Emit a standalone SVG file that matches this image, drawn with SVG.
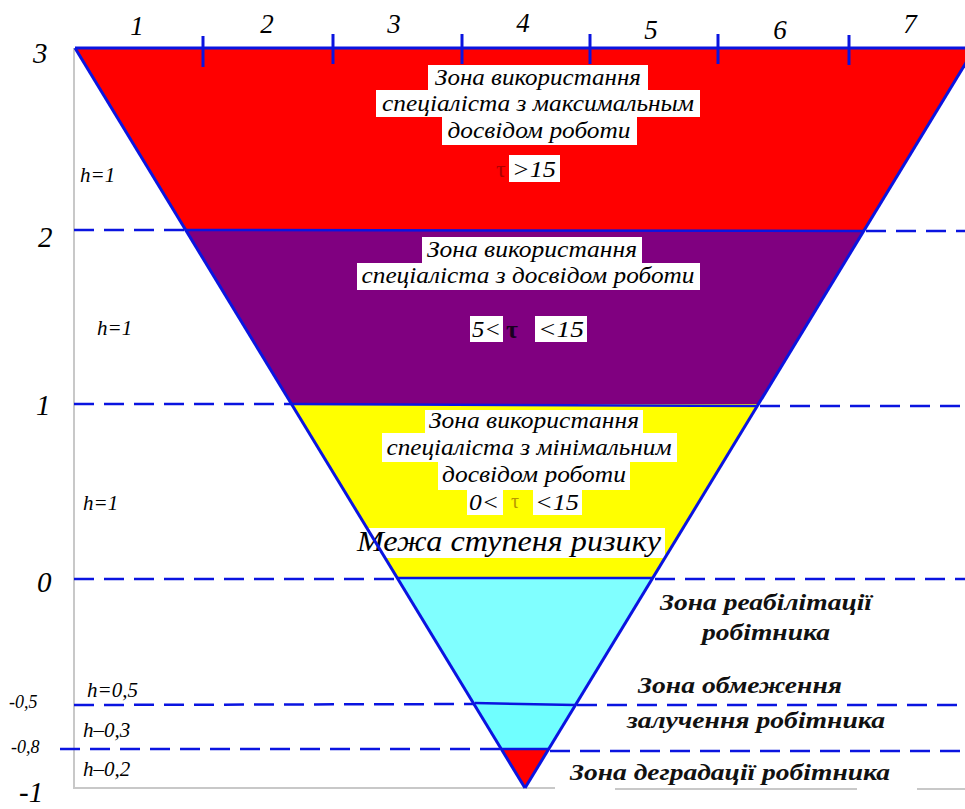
<svg xmlns="http://www.w3.org/2000/svg" width="965" height="809" viewBox="0 0 965 809">
<style>
.ed{stroke:#0a14e0;stroke-width:3;fill:none}
.hl{stroke:#0a14e0;stroke-width:2.5;fill:none}
.ds{stroke:#0a14e0;stroke-width:2.5;fill:none;stroke-dasharray:20 10}
.gr{stroke:#c8c8c8;stroke-width:2;fill:none}
text{font-family:"Liberation Serif","Times New Roman",serif}
.t{font-style:italic;fill:#000}
.z{font-size:23px;text-anchor:middle}
.ax{font-size:29px}
.col{font-size:27px;text-anchor:middle}
.h{font-size:21px}
.rb{font-style:italic;font-weight:bold;font-size:23px;fill:#111}
.bx{fill:#fff}
</style>
<rect width="965" height="809" fill="#fff"/>
<g id="frame">
<line class="gr" x1="74" y1="48" x2="74" y2="789"/>
<line class="gr" x1="74" y1="788" x2="555" y2="788"/>
<line class="gr" x1="615" y1="789" x2="857" y2="789"/>
<line class="gr" x1="917" y1="789" x2="965" y2="789"/>
</g>
<g id="zone-max">
<polygon points="75,48 975,48 864,230 186,230" fill="#ff0000"/>
<rect class="bx" x="428" y="65" width="220" height="25"/>
<rect class="bx" x="376" y="90" width="324" height="27"/>
<rect class="bx" x="442" y="117" width="195" height="28"/>
<rect class="bx" x="509" y="155" width="51" height="27"/>
<text class="t z" x="538" y="85" textLength="206" lengthAdjust="spacingAndGlyphs">Зона використання</text>
<text class="t z" x="538" y="111" textLength="312" lengthAdjust="spacingAndGlyphs">спеціаліста з максимальным</text>
<text class="t z" x="539" y="138" textLength="183" lengthAdjust="spacingAndGlyphs">досвідом роботи</text>
<text x="496" y="177" font-size="24" fill="#b00000">τ</text>
<text class="t" x="512" y="177" font-size="23" textLength="44" lengthAdjust="spacingAndGlyphs">&gt;15</text>
</g>
<g id="zone-exp">
<polygon points="186,230 864,230 758,404 292,404" fill="#800080"/>
<rect class="bx" x="422" y="237" width="220" height="26"/>
<rect class="bx" x="357" y="263" width="343" height="27"/>
<rect class="bx" x="470" y="316" width="33" height="26"/>
<rect class="bx" x="535" y="316" width="52" height="26"/>
<text class="t z" x="532" y="257" textLength="210" lengthAdjust="spacingAndGlyphs">Зона використання</text>
<text class="t z" x="528" y="283" textLength="333" lengthAdjust="spacingAndGlyphs">спеціаліста з досвідом роботи</text>
<text class="t" x="472" y="337" font-size="23" textLength="29" lengthAdjust="spacingAndGlyphs">5&lt;</text>
<text x="506" y="338" font-weight="bold" font-size="26" fill="#1a0020">τ</text>
<text class="t" x="538" y="337" font-size="23" textLength="46" lengthAdjust="spacingAndGlyphs">&lt;15</text>
</g>
<g id="zone-min">
<polygon points="292,404 758,404 653,578 397,578" fill="#ffff00"/>
<rect class="bx" x="425" y="410" width="218" height="23"/>
<rect class="bx" x="382" y="433" width="295" height="29"/>
<rect class="bx" x="438" y="462" width="192" height="28"/>
<rect class="bx" x="467" y="490" width="36" height="25"/>
<rect class="bx" x="533" y="490" width="49" height="25"/>
<rect class="bx" x="353" y="528" width="312" height="30"/>
<text class="t z" x="534" y="428" textLength="210" lengthAdjust="spacingAndGlyphs">Зона використання</text>
<text class="t z" x="529" y="455" textLength="285" lengthAdjust="spacingAndGlyphs">спеціаліста з мінімальним</text>
<text class="t z" x="534" y="482" textLength="184" lengthAdjust="spacingAndGlyphs">досвідом роботи</text>
<text class="t" x="469" y="510" font-size="23" textLength="30" lengthAdjust="spacingAndGlyphs">0&lt;</text>
<text x="511" y="508" font-size="20" fill="#b89800">τ</text>
<text class="t" x="535" y="510" font-size="23" textLength="44" lengthAdjust="spacingAndGlyphs">&lt;15</text>
<text class="t" x="509" y="551" font-size="30" text-anchor="middle" textLength="304" lengthAdjust="spacingAndGlyphs">Межа ступеня ризику</text>
</g>
<g id="zone-rehab">
<polygon points="397,578 653,578 575,704 475,704" fill="#80ffff"/>
<text class="rb" x="766" y="610" text-anchor="middle" textLength="212" lengthAdjust="spacingAndGlyphs">Зона реабілітації</text>
<text class="rb" x="766" y="640" text-anchor="middle" textLength="128" lengthAdjust="spacingAndGlyphs">робітника</text>
</g>
<g id="zone-limit">
<polygon points="475,704 575,704 548,749 502,749" fill="#70ffff"/>
<text class="rb" x="740" y="693" text-anchor="middle" textLength="204" lengthAdjust="spacingAndGlyphs">Зона обмеження</text>
<text class="rb" x="756" y="728" text-anchor="middle" textLength="258" lengthAdjust="spacingAndGlyphs">залучення робітника</text>
</g>
<g id="zone-degr">
<polygon points="502,749 548,749 525,788" fill="#ff0000"/>
<text class="rb" x="730" y="780" text-anchor="middle" textLength="320" lengthAdjust="spacingAndGlyphs">Зона деградації робітника</text>
</g>
<g id="connectors">
<line class="ed" x1="75" y1="48" x2="965" y2="48"/>
<line class="ed" x1="203" y1="36" x2="203" y2="67"/>
<line class="ed" x1="333" y1="34" x2="333" y2="64"/>
<line class="ed" x1="462" y1="34" x2="462" y2="64"/>
<line class="ed" x1="590" y1="34" x2="590" y2="64"/>
<line class="ed" x1="718" y1="34" x2="718" y2="64"/>
<line class="ed" x1="849" y1="35" x2="849" y2="65"/>
<line class="ed" x1="75" y1="48" x2="525" y2="788"/>
<line class="ed" x1="525" y1="788" x2="975" y2="48"/>
<line class="hl" x1="186" y1="230" x2="864" y2="231"/>
<line class="hl" x1="292" y1="404" x2="758" y2="406"/>
<line class="hl" x1="397" y1="578" x2="653" y2="578"/>
<line class="hl" x1="475" y1="703" x2="575" y2="705"/>
<line class="hl" x1="502" y1="749" x2="548" y2="749"/>
<line class="ds" x1="74" y1="230" x2="186" y2="230"/>
<line class="ds" x1="866" y1="231" x2="965" y2="231"/>
<line class="ds" x1="74" y1="404" x2="292" y2="404"/>
<line class="ds" x1="760" y1="406" x2="965" y2="406"/>
<line class="ds" x1="74" y1="579" x2="397" y2="579"/>
<line class="ds" x1="655" y1="579" x2="965" y2="579"/>
<line class="ds" x1="74" y1="705" x2="475" y2="704"/>
<line class="ds" x1="577" y1="705" x2="965" y2="705"/>
<line class="ds" x1="60" y1="749" x2="502" y2="749"/>
<line class="ds" x1="550" y1="751" x2="965" y2="751"/>
</g>
<g id="labels">
<text class="t col" x="137" y="35">1</text>
<text class="t col" x="267" y="33">2</text>
<text class="t col" x="394" y="33">3</text>
<text class="t col" x="523" y="32">4</text>
<text class="t col" x="651" y="39">5</text>
<text class="t col" x="780" y="39">6</text>
<text class="t col" x="910" y="33">7</text>
<text class="t ax" x="33" y="63">3</text>
<text class="t ax" x="38" y="247">2</text>
<text class="t ax" x="36" y="415">1</text>
<text class="t ax" x="37" y="592">0</text>
<text class="t" x="9" y="708" font-size="18">-0,5</text>
<text class="t" x="11" y="753" font-size="18">-0,8</text>
<text class="t ax" x="19" y="802">-1</text>
<text class="t h" x="80" y="182">h=1</text>
<text class="t h" x="97" y="335">h=1</text>
<text class="t h" x="83" y="510">h=1</text>
<text class="t h" x="87" y="697">h=0,5</text>
<text class="t h" x="83" y="737">h–0,3</text>
<text class="t h" x="83" y="776">h–0,2</text>
</g>
</svg>
